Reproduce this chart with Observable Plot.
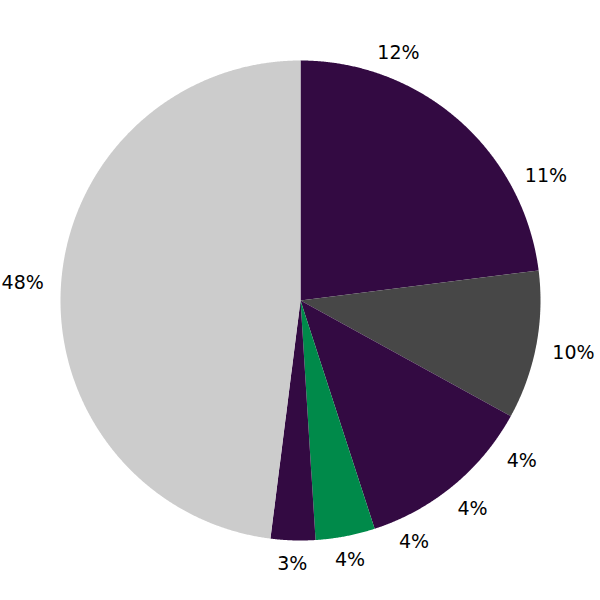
<!DOCTYPE html>
<html>
<head>
<meta charset="utf-8">
<script src="https://cdn.jsdelivr.net/npm/d3@7"></script>
<script src="https://cdn.jsdelivr.net/npm/@observablehq/plot@0.6"></script>
<style>
  html, body { margin: 0; padding: 0; background: #fff; }
  #chart { width: 600px; height: 600px; }
</style>
</head>
<body>
<div id="chart"></div>
<script>
// Slice values (percent), labels and group per slice, clockwise from 12 o'clock
const values = [12, 11, 10, 4, 4, 4, 4, 3, 48];
const labels = ["12%", "11%", "10%", "4%", "4%", "4%", "4%", "3%", "48%"];
const groups = ["A", "A", "B", "A", "A", "A", "C", "A", "D"];
const groupDomain = ["A", "B", "C", "D"];
const groupColors = ["#330a42", "#474747", "#008a4a", "#cccccc"];

const arcs = d3.pie().sort(null).value(d => d)(values);

// Merge consecutive slices of the same group into one run (no seams)
const runs = [];
arcs.forEach((a, i) => {
  const last = runs[runs.length - 1];
  if (last && last.g === groups[i]) last.end = a.endAngle;
  else runs.push({ g: groups[i], start: a.startAngle, end: a.endAngle });
});

const poly = [];
runs.forEach((r, ri) => {
  const span = r.end - r.start;
  const n = Math.max(2, Math.ceil(span / (Math.PI / 720)));
  poly.push({ ri, g: r.g, x: 0, y: 0 });
  for (let k = 0; k <= n; k++) {
    const t = r.start + span * k / n;
    poly.push({ ri, g: r.g, x: Math.sin(t), y: Math.cos(t) });
  }
  poly.push({ ri, g: r.g, x: 0, y: 0 });
});

const labelData = arcs.map((a, i) => {
  const m = (a.startAngle + a.endAngle) / 2;
  const s = Math.sin(m);
  const r = 1.1 + 0.06 * s * s;
  return { text: labels[i], x: r * Math.sin(m), y: r * Math.cos(m) };
});

const chart = Plot.plot({
  width: 600,
  height: 600,
  margin: 0,
  style: { fontFamily: "DejaVu Sans, sans-serif", background: "#fff" },
  x: { domain: [-1.25, 1.25], axis: null },
  y: { domain: [-1.25, 1.25], axis: null },
  color: { domain: groupDomain, range: groupColors },
  marks: [
    Plot.line(poly, { x: "x", y: "y", z: "ri", fill: "g", stroke: "none", curve: "linear" }),
    Plot.text(labelData, { x: "x", y: "y", text: "text", fontSize: 19, fill: "#000" })
  ]
});
document.getElementById("chart").appendChild(chart);
</script>
</body>
</html>
